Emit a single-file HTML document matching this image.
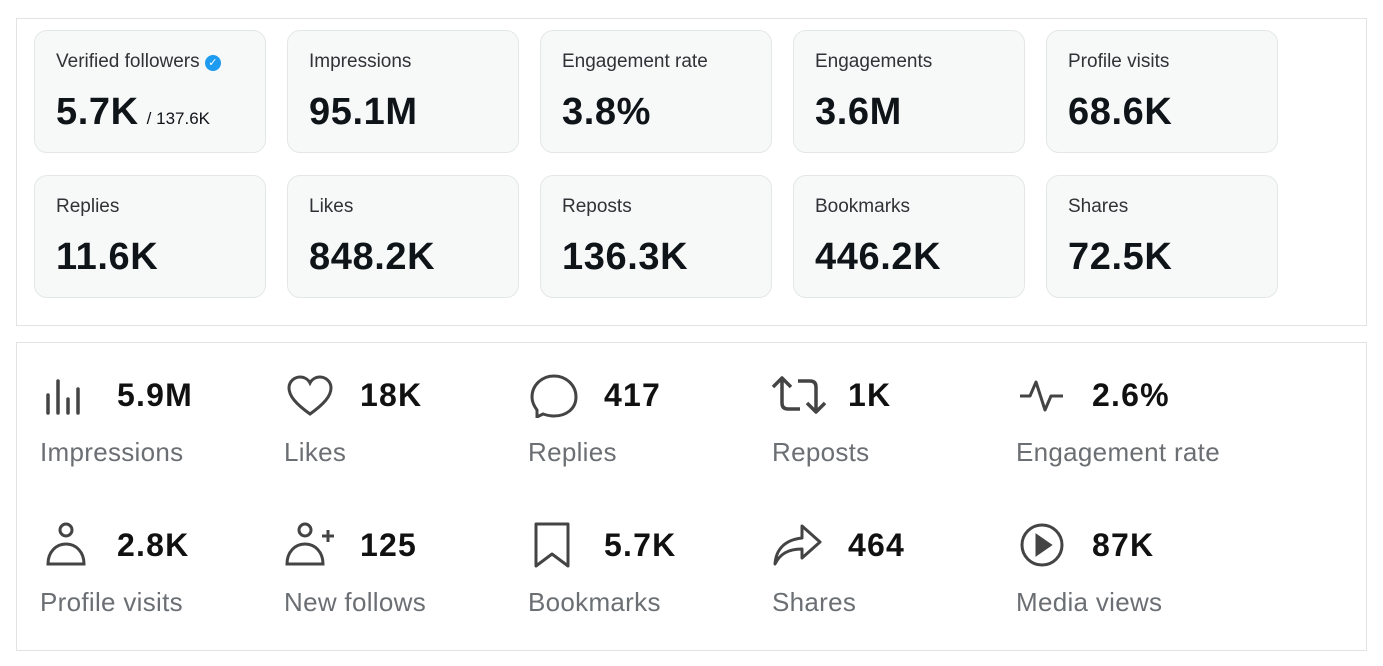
<!DOCTYPE html>
<html><head><meta charset="utf-8"><style>
body{margin:0;width:1383px;height:666px;background:#fff;font-family:"Liberation Sans",sans-serif;position:relative;overflow:hidden}
.panel{position:absolute;left:16px;width:1349px;border:1px solid #e3e3e3;background:#fff}
.card{position:absolute;width:232px;height:123px;background:#f7f9f9;border:1px solid #e4e7e8;border-radius:13px;box-sizing:border-box}
.card .l{position:absolute;left:21px;top:20px;font-size:19px;color:#2f3336}
.card .v{position:absolute;left:21px;top:60px;font-size:38px;font-weight:bold;color:#0f1419;letter-spacing:0.6px}
.card .s{font-size:17px;font-weight:normal;letter-spacing:0;margin-left:8px}
.n{position:absolute;font-size:32px;font-weight:bold;color:#111;line-height:1;letter-spacing:1.2px}
.t{position:absolute;font-size:26px;color:#6b6f73;line-height:1;letter-spacing:0.3px}
svg{position:absolute}
</style></head><body>
<div class="panel" style="top:18px;height:306px"></div>
<div class="panel" style="top:342px;height:307px"></div>

<div class="card" style="left:34px;top:30px"><div class="l">Verified followers <span style="display:inline-block;width:16px;height:16px;border-radius:50%;background:#1d9bf0;color:#fff;font-size:11px;text-align:center;line-height:16px;vertical-align:1px">✓</span></div><div class="v">5.7K<span class="s">/ 137.6K</span></div></div>
<div class="card" style="left:287px;top:30px"><div class="l">Impressions</div><div class="v">95.1M</div></div>
<div class="card" style="left:540px;top:30px"><div class="l">Engagement rate</div><div class="v">3.8%</div></div>
<div class="card" style="left:793px;top:30px"><div class="l">Engagements</div><div class="v">3.6M</div></div>
<div class="card" style="left:1046px;top:30px"><div class="l">Profile visits</div><div class="v">68.6K</div></div>
<div class="card" style="left:34px;top:175px"><div class="l">Replies</div><div class="v">11.6K</div></div>
<div class="card" style="left:287px;top:175px"><div class="l">Likes</div><div class="v">848.2K</div></div>
<div class="card" style="left:540px;top:175px"><div class="l">Reposts</div><div class="v">136.3K</div></div>
<div class="card" style="left:793px;top:175px"><div class="l">Bookmarks</div><div class="v">446.2K</div></div>
<div class="card" style="left:1046px;top:175px"><div class="l">Shares</div><div class="v">72.5K</div></div>

<svg style="left:44px;top:373px" width="44" height="44" viewBox="0 0 44 44" fill="none" stroke="#444" stroke-width="3.5" stroke-linecap="round"><path d="M4 22v18M14 8v32M24 26v14M34 16v24"/></svg>
<svg style="left:286px;top:374px" width="48" height="44" viewBox="0 0 48 44" fill="none" stroke="#444" stroke-width="3"><path d="M24 40C10 30 3 22 3 14 3 7 9 3 14 3c4 0 8 2 10 6 2-4 6-6 10-6 5 0 11 4 11 11 0 8-7 16-21 26z"/></svg>
<svg style="left:529px;top:372px" width="50" height="46" viewBox="0 0 50 46" fill="none" stroke="#444" stroke-width="3"><path d="M8 38c-3-4-5-8-5-13C3 13 13 4 25 4s22 9 22 21-10 19-22 19c-4 0-8-1-11-2l-6 3z"/></svg>
<svg style="left:771px;top:375px" width="56" height="40" viewBox="0 0 56 40" fill="none" stroke="#444" stroke-width="3.5" stroke-linejoin="round"><path d="M2 12l9-9 9 9M11 4v24c0 4 2 6 6 6h12M54 28l-9 9-9-9M45 36V12c0-4-2-6-6-6H27"/></svg>
<svg style="left:1018px;top:378px" width="48" height="36" viewBox="0 0 48 36" fill="none" stroke="#444" stroke-width="3" stroke-linejoin="round"><path d="M2 18h10l6-14 9 28 6-14h12"/></svg>
<div class="n" style="left:117px;top:379px">5.9M</div>
<div class="n" style="left:360px;top:379px">18K</div>
<div class="n" style="left:604px;top:379px">417</div>
<div class="n" style="left:848px;top:379px">1K</div>
<div class="n" style="left:1092px;top:379px">2.6%</div>
<div class="t" style="left:40px;top:439px">Impressions</div>
<div class="t" style="left:284px;top:439px">Likes</div>
<div class="t" style="left:528px;top:439px">Replies</div>
<div class="t" style="left:772px;top:439px">Reposts</div>
<div class="t" style="left:1016px;top:439px">Engagement rate</div>

<svg style="left:44px;top:520px" width="44" height="48" viewBox="0 0 44 48" fill="none" stroke="#444" stroke-width="3"><circle cx="22" cy="10" r="6"/><path d="M4 44c0-12 8-20 18-20s18 8 18 20z"/></svg>
<svg style="left:284px;top:520px" width="56" height="48" viewBox="0 0 56 48" fill="none" stroke="#444" stroke-width="3"><circle cx="21" cy="10" r="6"/><path d="M3 44c0-12 8-20 18-20s18 8 18 20zM38 16h12M44 10v12"/></svg>
<svg style="left:532px;top:520px" width="40" height="50" viewBox="0 0 40 50" fill="none" stroke="#444" stroke-width="3" stroke-linejoin="round"><path d="M4 4h32v42L20 34 4 46z"/></svg>
<svg style="left:772px;top:522px" width="52" height="46" viewBox="0 0 52 46" fill="none" stroke="#444" stroke-width="3" stroke-linejoin="round"><path d="M30 4l18 16-18 16v-9C16 27 8 32 3 42c1-14 9-24 27-26z"/></svg>
<svg style="left:1018px;top:522px" width="48" height="46" viewBox="0 0 48 46" fill="none" stroke="#444" stroke-width="3"><circle cx="24" cy="23" r="20"/><path d="M19 14l13 9-13 9z" fill="#444"/></svg>
<div class="n" style="left:117px;top:529px">2.8K</div>
<div class="n" style="left:360px;top:529px">125</div>
<div class="n" style="left:604px;top:529px">5.7K</div>
<div class="n" style="left:848px;top:529px">464</div>
<div class="n" style="left:1092px;top:529px">87K</div>
<div class="t" style="left:40px;top:589px">Profile visits</div>
<div class="t" style="left:284px;top:589px">New follows</div>
<div class="t" style="left:528px;top:589px">Bookmarks</div>
<div class="t" style="left:772px;top:589px">Shares</div>
<div class="t" style="left:1016px;top:589px">Media views</div>
</body></html>
